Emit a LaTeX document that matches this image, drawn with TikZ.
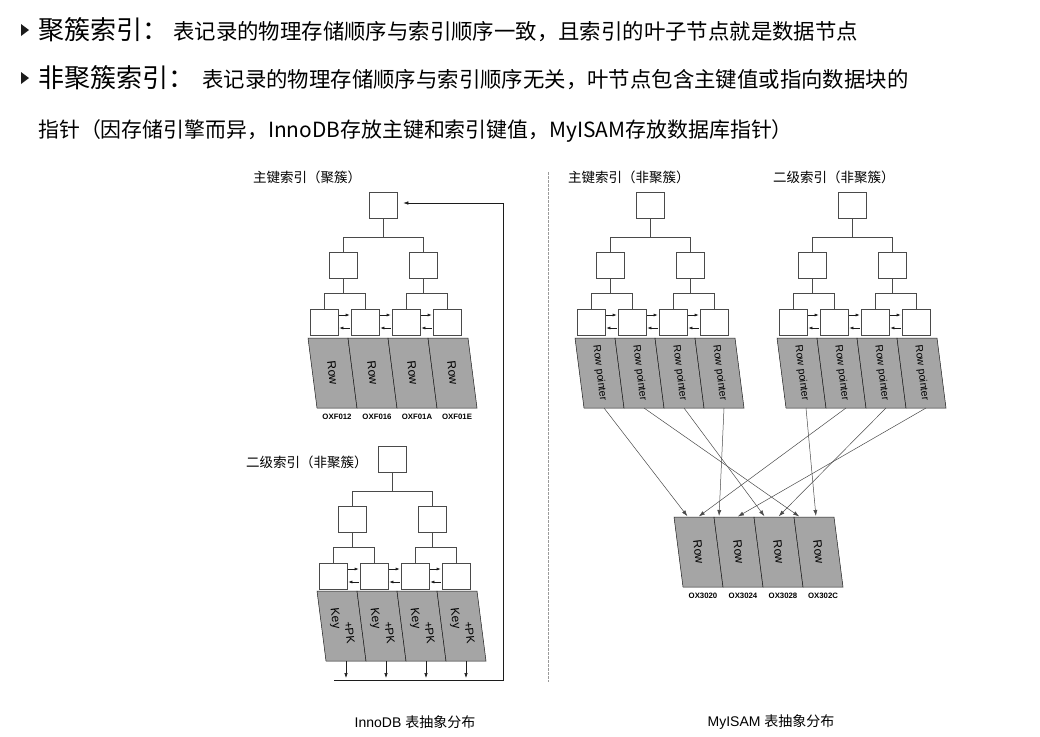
\documentclass[tikz,border=0pt]{standalone}
\usepackage{fontspec}
\setmainfont{Liberation Sans}
\newfontfamily\cjk{Noto Sans CJK SC}
\usetikzlibrary{arrows.meta,positioning,calc}
\definecolor{idxink}{HTML}{1C1C1C}
\definecolor{idxedge}{HTML}{4A4A4A}
\definecolor{idxrow}{HTML}{A5A5A5}
\definecolor{idxsplit}{HTML}{9A9A9A}

% index pages: #1 name, #2 root x, #3 root top
\newcommand{\pagetree}[3]{%
  \node[pagebox] (#1-root) at ({#2},{#3+13}) {};
  \node[pagebox] (#1-ma) at ({#2-40},{#3+73}) {};
  \node[pagebox] (#1-mb) at ({#2+40},{#3+73}) {};
  \foreach \i/\dx in {1/-59,2/-18,3/23,4/64}
    \node[pagebox] (#1-l\i) at ({#2+\dx},{#3+130}) {};
  \draw[branch] (#1-root.south) -- ++(0,19) -| (#1-ma.north);
  \draw[branch] (#1-root.south) -- ++(0,19) -| (#1-mb.north);
  \draw[branch] (#1-ma.south) -- ++(0,15) -| (#1-l1.north);
  \draw[branch] (#1-ma.south) -- ++(0,15) -| (#1-l2.north);
  \draw[branch] (#1-mb.south) -- ++(0,15) -| (#1-l3.north);
  \draw[branch] (#1-mb.south) -- ++(0,15) -| (#1-l4.north);
  \foreach \i/\j in {1/2,2/3,3/4} {
    \draw[sibling] ([yshift=7pt]#1-l\i.east) -- ([yshift=7pt]#1-l\j.west);
    \draw[sibling] ([yshift=-6pt]#1-l\j.west) -- ([yshift=-6pt]#1-l\i.east);
  }}

% sheared cells: #1 name, #2 left x, #3 top y, #4 cell text
\newcommand{\cellrow}[4]{%
  \foreach \k in {1,...,4} {
    \path[cellbox] ({#2+40*\k-40},{#3}) -- ++(40,0) -- ++(9,70) -- ++(-40,0) -- cycle;
    \node[celltext] (#1-c\k) at ({#2+40*\k-15.5},{#3+35}) {#4};
    \coordinate (#1-t\k) at ({#2+40*\k-20},{#3});
    \coordinate (#1-b\k) at ({#2+40*\k-11},{#3+70});
  }}

\begin{document}
\begin{tikzpicture}[
  x=1pt, y=-1pt,
  pagebox/.style={draw=idxedge,fill=white,minimum width=28pt,minimum height=26pt,inner sep=0pt,line width=0.6pt},
  branch/.style={draw=idxedge,line width=0.6pt},
  sibling/.style={-{Latex[length=4pt,width=3pt]},draw=idxink,line width=0.6pt,shorten >=1pt,shorten <=1pt},
  cellbox/.style={fill=idxrow,draw=idxink,line width=0.5pt},
  celltext/.style={rotate=-83,font=\fontsize{12}{12}\selectfont,align=left,inner sep=0pt},
  caption/.style={anchor=west,inner sep=0pt,font=\cjk\fontsize{13.5}{15}\selectfont},
  addr/.style={inner sep=0.5pt,font=\bfseries\fontsize{7.8}{8}\selectfont},
  ptr/.style={-{Latex[length=6pt,width=4pt]},draw=idxedge,line width=0.5pt,shorten >=1pt},
  arrow/.style={-{Latex[length=5pt,width=3.5pt]},draw=idxink,line width=0.6pt},
  split/.style={draw=idxsplit,dash pattern=on 2.5pt off 1.5pt,line width=0.6pt},
  headline/.style={anchor=west,inner sep=0pt,font=\cjk},
  footer/.style={font=\fontsize{14}{16}\selectfont}
]
\fill[white] (0,0) rectangle (1040,736);
\useasboundingbox (0,0) rectangle (1040,736);

% header
\fill[idxink] (21,24) -- (29,30) -- (21,36) -- cycle;
\fill[idxink] (21,72) -- (29,78) -- (21,84) -- cycle;
\node[headline] (head-a) at (38,30) {{\fontsize{26}{30}\selectfont 聚簇索引：}\hspace{5pt}{\fontsize{21.4}{24}\selectfont 表记录的物理存储顺序与索引顺序一致，且索引的叶子节点就是数据节点}};
\node[headline] (head-b) at (38,78) {{\fontsize{26}{30}\selectfont 非聚簇索引：}\hspace{8pt}{\fontsize{21.4}{24}\selectfont 表记录的物理存储顺序与索引顺序无关，叶节点包含主键值或指向数据块的}};
\node[headline] (head-c) at (38,131) {\fontsize{20.9}{24}\selectfont 指针（因存储引擎而异，InnoDB存放主键和索引键值，MyISAM存放数据库指针）};

% InnoDB
\node[caption] (pk-cap) at (253,177) {主键索引（聚簇）};
\pagetree{pk}{383}{192}
\cellrow{pk}{308}{338}{Row}
\foreach \i/\a in {1/OXF012,2/OXF016,3/OXF01A,4/OXF01E}
  \node[addr,below=5pt of pk-b\i] (pk-a\i) {\a};

\node[caption] (sk-cap) at (246,462) {二级索引（非聚簇）};
\pagetree{sk}{392}{446}
\cellrow{sk}{317}{591}{\fontsize{11.5}{12}\selectfont\hspace*{1.3em}+PK\\Key}

\coordinate (back-l) at (334,680);
\coordinate (back-r) at (503,680);
\coordinate (back-t) at (503,203);
\foreach \i in {1,...,4}
  \draw[arrow,shorten >=2pt] (sk-b\i) -- (sk-b\i |- back-l);
\draw[arrow,shorten >=6pt] (back-l) -- (back-r) -- (back-t) -- (back-t -| pk-root.east);

\draw[split] (548,172) -- (548,682);

% MyISAM
\node[caption] (mp-cap) at (568,177) {主键索引（非聚簇）};
\pagetree{mp}{650}{192}
\cellrow{mp}{575}{338}{\fontsize{10.5}{11}\selectfont Row pointer}

\node[caption] (ms-cap) at (773,177) {二级索引（非聚簇）};
\pagetree{ms}{852}{192}
\cellrow{ms}{777}{338}{\fontsize{10.5}{11}\selectfont Row pointer}

\cellrow{hp}{674}{517}{Row}
\foreach \i/\a in {1/OX3020,2/OX3024,3/OX3028,4/OX302C}
  \node[addr,below=5pt of hp-b\i] (hp-a\i) {\a};

\foreach \s/\t/\dx in {mp-b1/hp-t1/-6,mp-b2/hp-t4/-14,mp-b3/hp-t3/-9,mp-b4/hp-t2/-15,
                       ms-b1/hp-t4/2,ms-b2/hp-t1/4,ms-b3/hp-t3/4,ms-b4/hp-t2/3}
  \draw[ptr] (\s) -- ([xshift=\dx pt]\t);

\node[footer] (inno-cap) at (415,722) {InnoDB {\cjk 表抽象分布}};
\node[footer] (isam-cap) at (771,722) {MyISAM {\cjk 表抽象分布}};
\end{tikzpicture}
\end{document}
